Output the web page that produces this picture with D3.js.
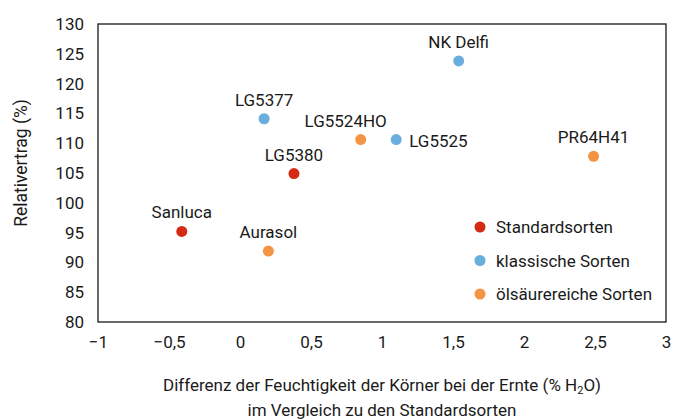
<!DOCTYPE html>
<html><head><meta charset="utf-8">
<script src="https://cdn.jsdelivr.net/npm/d3@7"></script>
<style>body{margin:0;background:#fff}svg{display:block;font-family:Roboto,"Noto Sans",sans-serif}</style>
</head><body><svg id="c" width="684" height="419"></svg>
<script>
const names = ["Sanluca","Aurasol","LG5377","LG5380","NK Delfi","LG5524HO","LG5525","PR64H41"];
const xValues = [-0.41, 0.20, 0.17, 0.38, 1.54, 0.85, 1.10, 2.49];
const yValues = [95.2, 91.9, 114.1, 104.9, 123.8, 110.6, 110.6, 107.8];
const groups = ["Standardsorten","ölsäurereiche Sorten","klassische Sorten","Standardsorten","klassische Sorten","ölsäurereiche Sorten","klassische Sorten","ölsäurereiche Sorten"];
const labelPlacement = ["above","above","above","above","above","aboveLeft","right","above"];
const legendOrder = ["Standardsorten","klassische Sorten","ölsäurereiche Sorten"];
const groupColors = ["#d42a14","#6aaee0","#f39442"];
const xTicks = [-1,-0.5,0,0.5,1,1.5,2,2.5,3];
const yTicks = [80,85,90,95,100,105,110,115,120,125,130];

const svg = d3.select("#c");
const m = {l:98,r:666,t:24,b:322};
const x = d3.scaleLinear().domain([-1,3]).range([m.l,m.r]);
const y = d3.scaleLinear().domain([80,130]).range([m.b,m.t]);
const color = d3.scaleOrdinal().domain(legendOrder).range(groupColors);
const fmt = d => String(d).replace(".",",").replace("-","\u2212");
const FS = 17;

// frame
svg.append("rect").attr("x",m.l).attr("y",m.t).attr("width",m.r-m.l).attr("height",m.b-m.t)
  .attr("fill","none").attr("stroke","#1a1a1a").attr("stroke-width",1.3);

const yAxis = svg.append("g").attr("transform",`translate(${m.l},0)`)
  .call(d3.axisLeft(y).tickValues(yTicks).tickSize(0).tickPadding(14).tickFormat(fmt));
const xAxis = svg.append("g").attr("transform",`translate(0,${m.b})`)
  .call(d3.axisBottom(x).tickValues(xTicks).tickSize(0).tickPadding(14).tickFormat(fmt));
[yAxis,xAxis].forEach(a=>{a.select(".domain").remove();
  a.selectAll("text").attr("font-size",FS).attr("font-family","Roboto").attr("fill","#1a1a1a");});

// points
const pts = names.map((n,i)=>({n,x:xValues[i],y:yValues[i],g:groups[i],p:labelPlacement[i]}));
svg.append("g").selectAll("circle").data(pts).join("circle")
  .attr("cx",d=>x(d.x)).attr("cy",d=>y(d.y)).attr("r",5.5).attr("fill",d=>color(d.g));
svg.append("g").selectAll("text").data(pts).join("text")
  .attr("x",d=>x(d.x)+(d.p==="right"?13:d.p==="aboveLeft"?-15:0))
  .attr("y",d=>y(d.y)+(d.p==="right"?7:-13))
  .attr("text-anchor",d=>d.p==="right"?"start":"middle")
  .attr("font-size",FS).attr("fill","#1a1a1a").text(d=>d.n);

// legend
const lg = svg.append("g").selectAll("g").data(legendOrder).join("g")
  .attr("transform",(d,i)=>`translate(480,${227+i*33.5})`);
lg.append("circle").attr("r",5.5).attr("fill",d=>color(d));
lg.append("text").attr("x",16).attr("y",6).attr("font-size",FS).attr("fill","#1a1a1a").text(d=>d);

// axis titles
const xt = svg.append("text").attr("x",(m.l+m.r)/2).attr("y",391).attr("text-anchor","middle")
  .attr("font-size",17).attr("fill","#1a1a1a");
xt.append("tspan").text("Differenz der Feuchtigkeit der Körner bei der Ernte (% H");
xt.append("tspan").attr("font-size",11).attr("dy",3).text("2");
xt.append("tspan").attr("dy",-3).text("O)");
svg.append("text").attr("x",(m.l+m.r)/2).attr("y",416).attr("text-anchor","middle")
  .attr("font-size",17).attr("fill","#1a1a1a").text("im Vergleich zu den Standardsorten");
svg.append("text").attr("transform",`translate(27,163) rotate(-90)`)
  .attr("text-anchor","middle").attr("font-size",17.5).attr("fill","#1a1a1a").text("Relativertrag (%)");
</script></body></html>
